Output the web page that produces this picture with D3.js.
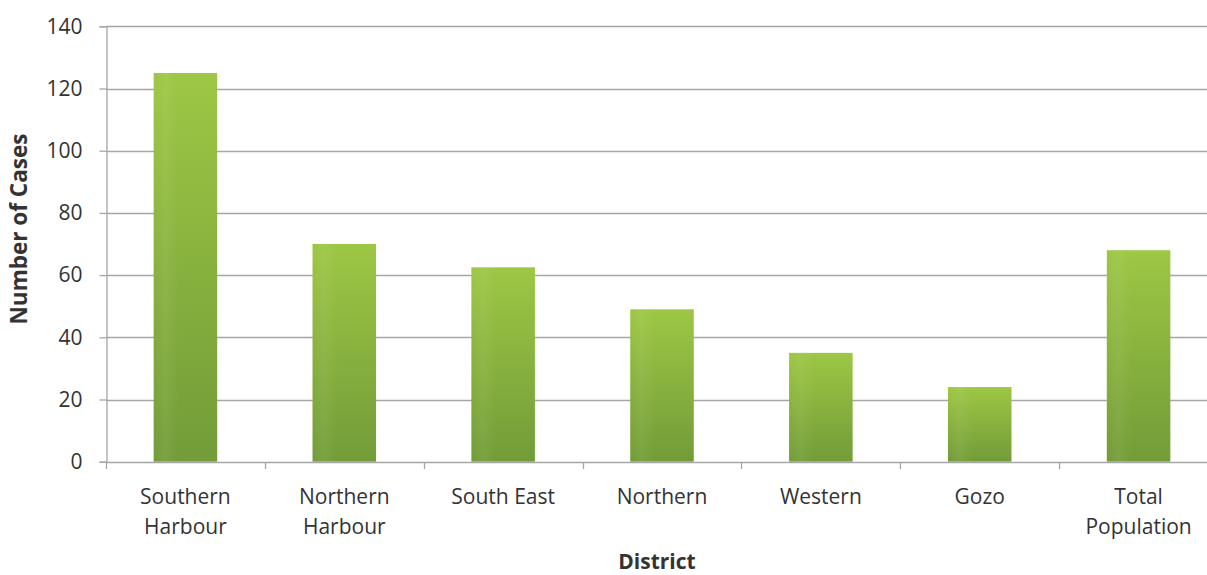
<!DOCTYPE html>
<html>
<head>
<meta charset="utf-8">
<script src="https://cdn.jsdelivr.net/npm/d3@7"></script>
<style>
  html, body { margin: 0; padding: 0; background: #fff; }
  svg { display: block; }
  text { font-family: "Open Sans", sans-serif; fill: #333; }
</style>
</head>
<body>
<svg id="chart" width="1207" height="575"></svg>
<script>
// Cases per district
const districts = [
  ["Southern", "Harbour"],
  ["Northern", "Harbour"],
  ["South East"],
  ["Northern"],
  ["Western"],
  ["Gozo"],
  ["Total", "Population"]
];
const cases = [125, 70, 62.5, 49, 35, 24, 68];
const yTicks = [0, 20, 40, 60, 80, 100, 120, 140];

const svg = d3.select("#chart");
const W = 1207, H = 575;
const plot = { left: 106, top: 26.3, bottom: 461.7, right: 1218 };

const keys = districts.map((d, i) => i);
const x = d3.scaleBand()
  .domain(keys)
  .range([plot.left, plot.right])
  .paddingInner(0.6)
  .paddingOuter(0.3);

const y = d3.scaleLinear().domain([0, 140]).range([plot.bottom, plot.top]);

// Bar fill: lighter green at the top fading to a deeper olive green
const defs = svg.append("defs");
const grad = defs.append("linearGradient")
  .attr("id", "barGrad").attr("x1", 0).attr("y1", 0).attr("x2", 0).attr("y2", 1);
grad.append("stop").attr("offset", "0%").attr("stop-color", "#9dc744");
grad.append("stop").attr("offset", "100%").attr("stop-color", "#729c38");

const sheen = defs.append("linearGradient")
  .attr("id", "barSheen").attr("x1", 0).attr("y1", 0).attr("x2", 1).attr("y2", 0);
sheen.append("stop").attr("offset", "0%").attr("stop-color", "#fff").attr("stop-opacity", 0);
sheen.append("stop").attr("offset", "18%").attr("stop-color", "#fff").attr("stop-opacity", 0.06);
sheen.append("stop").attr("offset", "40%").attr("stop-color", "#fff").attr("stop-opacity", 0);
sheen.append("stop").attr("offset", "100%").attr("stop-color", "#fff").attr("stop-opacity", 0);

// Horizontal gridlines
svg.append("g")
  .selectAll("line")
  .data(yTicks.filter(t => t > 0))
  .join("line")
  .attr("x1", plot.left).attr("x2", W)
  .attr("y1", d => Math.round(y(d)) + 0.5).attr("y2", d => Math.round(y(d)) + 0.5)
  .attr("stroke", "#a6a6a6").attr("stroke-width", 1.3);

// Y axis
const yAxis = svg.append("g")
  .attr("transform", `translate(${plot.left + 0.5},0)`)
  .call(d3.axisLeft(y).tickValues(yTicks).tickSize(7).tickPadding(17));
yAxis.select(".domain").attr("stroke", "#a6a6a6").attr("stroke-width", 1.3);
yAxis.selectAll(".tick line").attr("stroke", "#a6a6a6").attr("stroke-width", 1.3);
yAxis.selectAll(".tick text")
  .attr("font-family", "'Open Sans', sans-serif").attr("font-size", 21).attr("fill", "#333");

// Bars
const bars = svg.append("g");
bars.selectAll("rect.bar")
  .data(cases)
  .join("rect")
  .attr("class", "bar")
  .attr("x", (d, i) => x(i))
  .attr("width", x.bandwidth())
  .attr("y", d => y(d))
  .attr("height", d => y(0) - y(d))
  .attr("fill", "url(#barGrad)");
bars.selectAll("rect.sheen")
  .data(cases)
  .join("rect")
  .attr("class", "sheen")
  .attr("x", (d, i) => x(i))
  .attr("width", x.bandwidth())
  .attr("y", d => y(d))
  .attr("height", d => y(0) - y(d))
  .attr("fill", "url(#barSheen)");

// X axis with ticks between categories
const step = x.step();
const boundaries = d3.range(keys.length + 1).map(i => plot.left + i * step);
const xAxis = svg.append("g");
xAxis.append("line")
  .attr("x1", plot.left).attr("x2", W)
  .attr("y1", Math.round(y(0)) + 0.5).attr("y2", Math.round(y(0)) + 0.5)
  .attr("stroke", "#a6a6a6").attr("stroke-width", 1.3);
xAxis.selectAll("line.tick")
  .data(boundaries.filter(b => b <= W))
  .join("line")
  .attr("class", "tick")
  .attr("x1", d => Math.round(d) + 0.5).attr("x2", d => Math.round(d) + 0.5)
  .attr("y1", Math.round(y(0))).attr("y2", Math.round(y(0)) + 7)
  .attr("stroke", "#a6a6a6").attr("stroke-width", 1.3);

const labels = xAxis.selectAll("text.cat")
  .data(districts)
  .join("text")
  .attr("class", "cat")
  .attr("text-anchor", "middle")
  .attr("font-size", 21)
  .attr("transform", (d, i) => `translate(${x(i) + x.bandwidth() / 2},${y(0) + 42})`);
labels.selectAll("tspan")
  .data(d => d)
  .join("tspan")
  .attr("x", 0)
  .attr("dy", (d, j) => j === 0 ? 0 : 30)
  .text(d => d);

// Axis titles
svg.append("text")
  .attr("x", 657).attr("y", 569)
  .attr("text-anchor", "middle")
  .attr("font-size", 21).attr("font-weight", "bold")
  .text("District");

svg.append("text")
  .attr("transform", "translate(27,229) rotate(-90)")
  .attr("text-anchor", "middle")
  .attr("font-size", 22.5).attr("font-weight", "bold")
  .text("Number of Cases");
</script>
</body>
</html>
